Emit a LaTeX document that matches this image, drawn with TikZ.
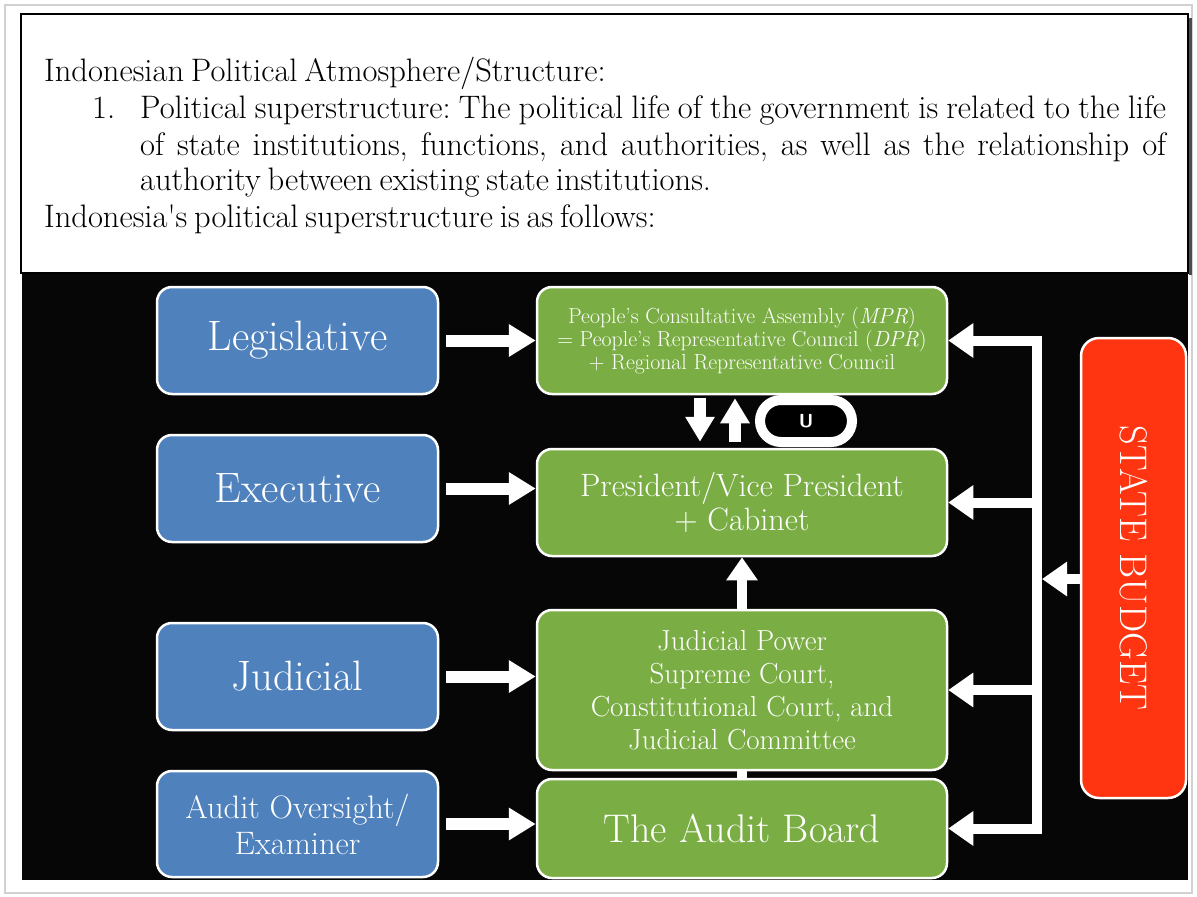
\documentclass[tikz,border=0pt]{standalone}
\usepackage{fontspec}
\usetikzlibrary{arrows.meta}
\definecolor{bluebox}{HTML}{4F81BD}
\definecolor{greenbox}{HTML}{7AAE44}
\definecolor{redbox}{HTML}{FF3511}
\definecolor{panel}{HTML}{060606}
\newcommand{\bodyfnt}{\fontsize{32.5}{36}\selectfont\frenchspacing\spaceskip=0.21em plus 1em minus 0.06em\relax}
\begin{document}
\begin{tikzpicture}[x=1pt,y=-1pt,
  bbox/.style={draw=white, line width=2.5pt, fill=bluebox, rounded corners=15pt, text=white, align=center, inner sep=0pt, minimum width=281pt},
  gbox/.style={draw=white, line width=2.5pt, fill=greenbox, rounded corners=15pt, text=white, align=center, inner sep=0pt, minimum width=410pt},
  conn/.style={draw=white, line width=12pt, -{Triangle[length=27pt,width=31pt]}},
  busarrow/.style={draw=white, line width=10pt, -{Triangle[length=25pt,width=33pt]}},
  uparrow/.style={draw=white, line width=10pt, -{Triangle[length=23pt,width=30pt]}},
  smallarrow/.style={draw=white, line width=12pt, -{Triangle[length=25pt,width=28pt]}},
  bar/.style={draw=white, line width=10pt},
  body/.style={anchor=base west, inner sep=0pt},
]
\useasboundingbox (0,0) rectangle (1197,897);
\fill[white] (0,0) rectangle (1197,897);
\draw[black!18, line width=2pt] (5,5) rectangle (1192,893);
% black panel
\fill[panel] (22,273) rectangle (1188,880);
% white header box
\draw[black!70, line width=3pt] (1190,18) -- (1190,275);
\draw[black, line width=2.5pt, fill=white] (21,14) rectangle (1188,273);

\node[body] (t1) at (44,81) {\bodyfnt Indonesian Political Atmosphere/Structure:};
\node[body] (t2n) at (92,118) {\bodyfnt 1.};
\node[body] (t2) at (140,118) {\bodyfnt\makebox[1026pt][s]{Political superstructure: The political life of the government is related to the life}};
\node[body] (t3) at (140,155) {\bodyfnt\makebox[1026pt][s]{of state institutions, functions, and authorities, as well as the relationship of}};
\node[body] (t4) at (140,190) {\bodyfnt authority between existing state institutions.};
\node[body] (t5) at (44,227) {\bodyfnt Indonesia\textquotesingle s political superstructure is as follows:};

% blue boxes
\node[bbox, minimum height=107pt, font=\fontsize{42.5}{48}\selectfont] (leg) at (297.5,340.5) {Legislative};
\node[bbox, minimum height=107pt, font=\fontsize{42.5}{48}\selectfont] (exe) at (297.5,488.5) {Executive};
\node[bbox, minimum height=107pt, font=\fontsize{42.5}{48}\selectfont] (judb) at (297.5,676.5) {Judicial};
\node[bbox, minimum height=106pt, font=\fontsize{32.5}{36}\selectfont] (aud) at (297.5,824) {Audit Oversight/\\Examiner};

% green boxes
\node[gbox, minimum height=107pt, font=\fontsize{21.8}{23}\selectfont] (mpr) at (742,340.5) {People’s Consultative Assembly (\textit{MPR})\\= People’s Representative Council (\textit{DPR})\\+ Regional Representative Council};
\node[gbox, minimum height=107pt, font=\fontsize{32.3}{34}\selectfont] (pres) at (742,502.5) {President/Vice President\\+ Cabinet};
\node[gbox, minimum height=160pt, font=\fontsize{29}{33}\selectfont] (jud) at (742,690) {Judicial Power\\Supreme Court,\\Constitutional Court, and\\Judicial Committee};
\node[gbox, minimum height=99pt, font=\fontsize{40}{44}\selectfont] (bpk) at (742,828.5) {The Audit Board};

% state budget
\node[draw=white, line width=2.5pt, fill=redbox, rounded corners=18pt, minimum width=105pt, minimum height=460pt, inner sep=0pt] (apbn) at (1133.5,568) {};
\node[text=white, rotate=-90, font=\fontsize{38.5}{44}\selectfont, inner sep=0pt] (apbnt) at (apbn.center) {STATE BUDGET};

% blue -> green
\draw[conn, shorten <=7pt] (leg.east) -- (leg.east -| mpr.west);
\draw[conn, shorten <=7pt] (exe.east) -- (exe.east -| pres.west);
\draw[conn, shorten <=7pt] (judb.east) -- (judb.east -| jud.west);
\draw[conn, shorten <=7pt] (aud.east) -- (aud.east -| bpk.west);

% judicial -> president, audit -> judicial
\draw[uparrow] (jud.north) -- (pres.south);
\draw[bar] (bpk.north) -- (jud.south);

% MPR <-> President with U
\draw[smallarrow, shorten <=3pt, shorten >=6pt] ([xshift=-42pt]mpr.south) -- ([xshift=-42pt]pres.north);
\draw[smallarrow, shorten <=6pt, shorten >=3pt] ([xshift=-7pt]pres.north) -- ([xshift=-7pt]mpr.south);
\node[draw=white, line width=10pt, fill=black, rounded corners=21pt, minimum width=92pt, minimum height=42pt, inner sep=0pt, text=white, font=\sffamily\bfseries\fontsize{19}{22}\selectfont] (uring) at (806,421) {U};

% state budget bus
\coordinate (busx) at (1037,0);
\coordinate (ry) at (0,579);
\coordinate (b1) at (mpr.east -| busx);
\coordinate (b2) at (pres.east -| busx);
\coordinate (b3) at (jud.east -| busx);
\coordinate (b4) at (bpk.east -| busx);
\draw[bar, line cap=rect] (b1) -- (b4);
\draw[busarrow] (b1) -- (mpr.east);
\draw[busarrow] (b2) -- (pres.east);
\draw[busarrow] (b3) -- (jud.east);
\draw[busarrow] (b4) -- (bpk.east);
\draw[busarrow, shorten >=5pt] (apbn.west |- ry) -- (ry -| busx);
\end{tikzpicture}
\end{document}
